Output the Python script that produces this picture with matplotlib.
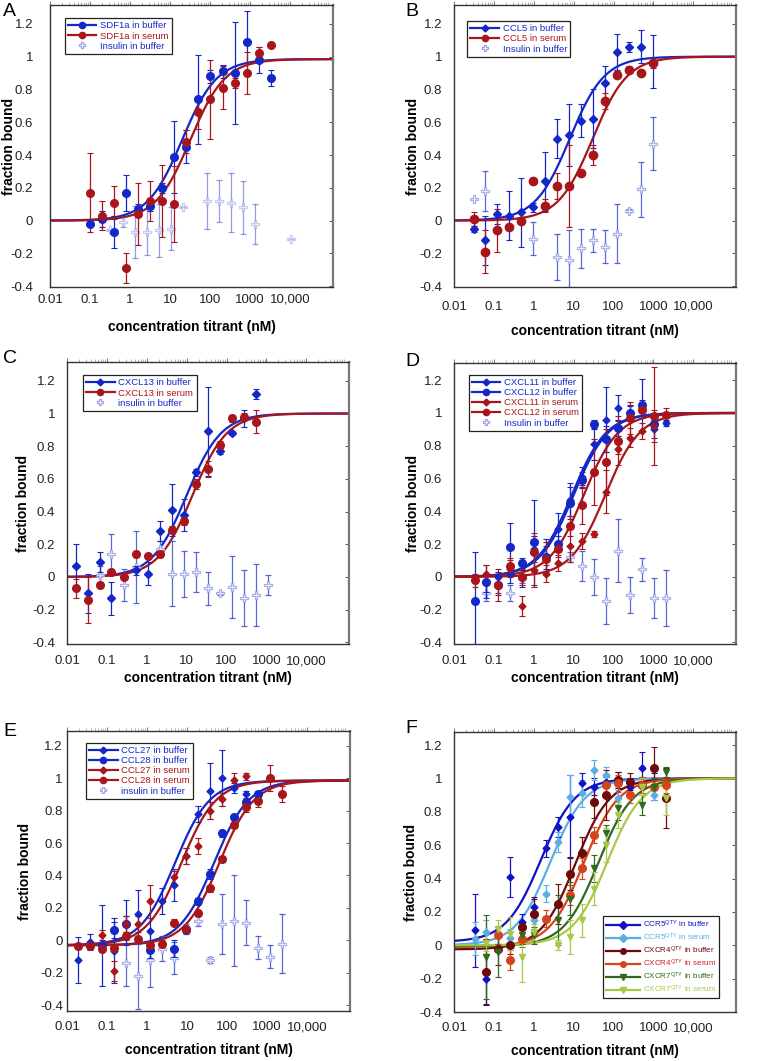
import numpy as np
import matplotlib.pyplot as plt
from matplotlib.lines import Line2D
from matplotlib.ticker import LogLocator, NullFormatter

plt.rcParams['font.family'] = ['Liberation Sans', 'DejaVu Sans']
plt.rcParams['mathtext.default'] = 'regular'
nan = np.nan

# axis ticks
xticks = [0.01, 0.1, 1, 10, 100, 1000, 10000]
xtick_labels = ['0.01', '0.1', '1', '10', '100', '1000', '10,000']
yticks = [-0.4, -0.2, 0, 0.2, 0.4, 0.6, 0.8, 1, 1.2]
ytick_labels = ['-0.4', '-0.2', '0', '0.2', '0.4', '0.6', '0.8', '1', '1.2']

# ---------------- A : SDF1a ----------------
A_x = [0.1, 0.2, 0.4, 0.8, 1.6, 3.2, 6.4, 12.8, 25.6, 51, 102, 205, 410, 820, 1640, 3280]
A_buf = [-0.02, 0.01, -0.07, 0.17, 0.07, 0.09, 0.20, 0.39, 0.45, 0.74, 0.88, 0.91, 0.90, 1.09, 0.98, 0.87]
A_buf_err = [0.0, 0.05, 0.10, 0.11, 0.03, 0.03, 0.03, 0.22, 0.10, 0.27, 0.04, 0.04, 0.31, 0.19, 0.08, 0.05]
A_ser = [0.17, 0.03, 0.11, -0.29, 0.04, 0.12, 0.12, 0.10, 0.48, 0.66, 0.74, 0.81, 0.84, 0.90, 1.02, 1.07]
A_ser_err = [0.24, 0.09, 0.10, 0.09, 0.19, 0.12, 0.22, 0.23, 0.07, 0.10, 0.24, 0.13, 0.03, 0.13, 0.04, 0.0]
A_ins_x = [0.32, 0.65, 1.3, 2.6, 5.2, 10.3, 20.6, 82, 165, 330, 660, 1320, 10560]
A_ins = [-0.06, -0.01, -0.07, -0.07, -0.06, -0.05, 0.08, 0.12, 0.12, 0.11, 0.08, -0.02, -0.11]
A_ins_err = [0.0, 0.03, 0.16, 0.14, 0.16, 0.13, 0.0, 0.17, 0.13, 0.18, 0.16, 0.12, 0.0]
A_kd = [20, 32]

# ---------------- B : CCL5 ----------------
B_x = [0.031, 0.061, 0.12, 0.24, 0.49, 0.98, 1.95, 3.9, 7.8, 15.6, 31, 62.5, 125, 250, 500, 1000]
B_buf = [-0.05, -0.12, 0.04, 0.03, 0.05, 0.08, 0.24, 0.50, 0.52, 0.61, 0.62, 0.84, 1.03, 1.06, 1.06, 0.97]
B_buf_err = [0.02, 0.15, 0.06, 0.15, 0.21, 0.03, 0.18, 0.12, 0.19, 0.10, 0.18, 0.10, 0.11, 0.03, 0.10, 0.16]
B_ser = [0.01, -0.19, -0.06, -0.04, 0.0, 0.24, 0.09, 0.21, 0.21, 0.29, 0.40, 0.73, 0.89, 0.92, 0.90, 0.96]
B_ser_err = [0.04, 0.13, 0.13, 0.02, 0.02, 0.0, 0.04, 0.08, 0.25, 0.02, 0.06, 0.05, 0.02, 0.02, 0.01, 0.03]
B_ins_x = [0.031, 0.061, 0.98, 3.9, 7.8, 15.6, 31, 62.5, 125, 250, 500, 1000]
B_ins = [0.13, 0.18, -0.11, -0.22, -0.24, -0.17, -0.12, -0.16, -0.08, 0.06, 0.19, 0.47]
B_ins_err = [0.0, 0.12, 0.10, 0.14, 0.18, 0.12, 0.07, 0.10, 0.18, 0.01, 0.17, 0.16]
B_kd = [8, 30]

# ---------------- C : CXCL13 ----------------
C_x = [0.017, 0.034, 0.068, 0.13, 0.27, 0.54, 1.07, 2.1, 4.3, 8.6, 17, 34, 69, 137, 275, 550]
C_buf = [0.07, -0.10, 0.09, -0.13, 0.0, 0.04, 0.02, 0.28, 0.41, 0.38, 0.64, 0.89, 0.77, 0.88, 0.97, 1.12]
C_buf_err = [0.13, 0.12, 0.06, 0.10, 0.01, 0.03, 0.07, 0.06, 0.16, 0.10, 0.02, 0.27, 0.02, 0.01, 0.05, 0.03]
C_ser = [-0.07, -0.14, -0.05, 0.03, 0.0, 0.14, 0.13, 0.14, 0.29, 0.34, 0.57, 0.66, 0.81, 0.97, 0.98, 0.95]
C_ser_err = [0.06, 0.14, 0.02, 0.02, 0.01, 0.02, 0.01, 0.02, 0.02, 0.02, 0.03, 0.05, 0.02, 0.02, 0.02, 0.07]
C_ins_x = [0.068, 0.13, 0.27, 0.54, 2.1, 4.3, 8.6, 17, 34, 69, 137, 275, 550, 1100]
C_ins = [0.01, 0.14, -0.05, 0.06, 0.17, 0.02, 0.02, 0.03, -0.07, -0.10, -0.06, -0.13, -0.11, -0.05]
C_ins_err = [0.06, 0.12, 0.10, 0.22, 0.05, 0.20, 0.14, 0.12, 0.10, 0.01, 0.19, 0.17, 0.19, 0.06]
C_kd = [10, 14]

# ---------------- D : CXCL11 / CXCL12 ----------------
D_x = [0.033, 0.065, 0.13, 0.26, 0.51, 1.0, 2.0, 4.1, 8.2, 16, 33, 65, 130, 260, 520, 1040, 2100]
D_11buf = [nan, -0.04, 0.0, 0.02, -0.01, 0.17, 0.13, 0.29, 0.47, 0.61, 0.81, 0.96, 1.03, 1.0, 1.03, 0.90, 0.94]
D_11buf_err = [0, 0.05, 0.03, 0.06, 0.05, 0.08, 0.10, 0.10, 0.10, 0.06, 0.10, 0.20, 0.08, 0.05, 0.05, 0.05, 0.02]
D_12buf = [-0.15, -0.03, -0.05, 0.18, 0.085, 0.21, 0.12, 0.20, 0.45, 0.59, 0.93, 0.84, 0.91, 1.0, 1.05, 0.93, nan]
D_12buf_err = [0.30, 0.10, 0.06, 0.15, 0.03, 0.26, 0.07, 0.05, 0.10, 0.05, 0.03, 0.08, 0.05, 0.04, 0.16, 0.03, 0]
D_11ser = [nan, 0.02, -0.05, 0.05, -0.18, 0.04, 0.02, 0.085, 0.19, 0.22, 0.26, 0.52, 0.78, 0.85, 0.89, 0.92, nan]
D_11ser_err = [0, 0.05, 0.05, 0.05, 0.06, 0.10, 0.05, 0.05, 0.10, 0.05, 0.02, 0.13, 0.03, 0.06, 0.05, 0.10, 0]
D_12ser = [-0.02, nan, -0.05, 0.065, 0.0, 0.15, 0.11, 0.17, 0.31, 0.44, 0.64, 0.70, 0.83, 0.97, 1.02, 0.98, 0.99]
D_12ser_err = [0.04, 0, 0.10, 0.05, 0.05, 0.12, 0.10, 0.05, 0.06, 0.12, 0.20, 0.20, 0.15, 0.10, 0.05, 0.30, 0.04]
D_ins_x = [0.065, 0.26, 0.51, 8.2, 16, 33, 65, 130, 260, 520, 1040, 2100]
D_ins = [-0.10, -0.10, -0.01, 0.12, 0.065, 0.0, -0.15, 0.16, -0.11, 0.045, -0.13, -0.13]
D_ins_err = [0.05, 0.05, 0.03, 0.03, 0.09, 0.11, 0.14, 0.19, 0.11, 0.07, 0.12, 0.17]
D_kd = [9, 10, 62, 18]

# ---------------- E : CCL27 / CCL28 ----------------
E_x = [0.019, 0.038, 0.075, 0.15, 0.3, 0.6, 1.2, 2.4, 4.7, 9.4, 19, 38, 75, 150, 300, 600, 1200, 2400]
E_27buf = [-0.12, -0.01, -0.03, -0.065, 0.11, 0.16, 0.06, 0.24, 0.34, 0.52, 0.78, 0.92, 1.0, 0.94, 0.90, nan, nan, nan]
E_27buf_err = [0.14, 0.05, 0.25, 0.20, 0.14, 0.15, 0.08, 0.08, 0.10, 0.05, 0.05, 0.17, 0.17, 0.03, 0.02, 0, 0, 0]
E_28buf = [nan, nan, -0.03, 0.065, 0.10, nan, -0.06, nan, -0.05, 0.065, 0.24, 0.41, 0.66, 0.76, 0.85, 0.90, nan, nan]
E_28buf_err = [0, 0, 0.03, 0.05, 0.05, 0, 0.05, 0, 0.05, 0.02, 0.02, 0.03, 0.02, 0.02, 0.02, 0.02, 0, 0]
E_27ser = [nan, nan, 0.035, -0.19, 0.10, 0.10, 0.24, nan, 0.39, 0.52, 0.58, 0.80, 0.87, 0.99, 1.01, nan, nan, nan]
E_27ser_err = [0, 0, 0.03, 0.06, 0.05, 0.05, 0.10, 0, 0.04, 0.05, 0.05, 0.05, 0.04, 0.04, 0.02, 0, 0, 0]
E_28ser = [-0.035, -0.035, -0.05, -0.045, 0.03, 0.01, -0.03, -0.02, 0.11, 0.07, 0.17, 0.32, 0.50, 0.71, 0.82, 0.86, 1.0, 0.90]
E_28ser_err = [0.02, 0.02, 0.02, 0.02, 0.02, 0.02, 0.02, 0.02, 0.02, 0.02, 0.02, 0.02, 0.02, 0.02, 0.03, 0.04, 0.08, 0.05]
E_ins_x = [0.3, 0.6, 1.2, 2.4, 4.7, 9.4, 19, 38, 75, 150, 300, 600, 1200, 2400]
E_ins = [-0.14, -0.22, -0.12, -0.05, -0.11, 0.07, 0.12, -0.12, 0.10, 0.12, 0.11, -0.045, -0.10, -0.02]
E_ins_err = [0.14, 0.20, 0.17, 0.08, 0.10, 0.03, 0.03, 0.02, 0.185, 0.28, 0.14, 0.07, 0.07, 0.18]
E_kd = [5, 47, 7.2, 64]

# ---------------- F : QTY receptors ----------------
F_x = [0.033, 0.065, 0.13, 0.26, 0.51, 1.0, 2.0, 4.1, 8.2, 16, 33, 65, 130, 260, 520, 1040, 2100]
F_ccr5_buf = [0.09, -0.20, nan, 0.41, 0.14, 0.23, 0.58, 0.71, 0.77, 0.97, 0.95, 0.98, 0.99, 0.95, 1.06, 0.95, nan]
F_ccr5_buf_err = [0.22, 0.15, 0, 0.12, 0.05, 0.05, 0.05, 0.06, 0.25, 0.06, 0.05, 0.03, 0.05, 0.05, 0.10, 0.08, 0]
F_ccr5_ser = [0.04, 0.08, 0.06, 0.045, nan, 0.15, 0.31, 0.62, 0.89, 0.91, 1.05, 1.02, 0.88, nan, nan, 0.90, nan]
F_ccr5_ser_err = [0.10, 0.07, 0.05, 0.05, 0, 0.05, 0.05, 0.06, 0.13, 0.08, 0.06, 0.05, 0.05, 0, 0, 0.03, 0]
F_cxcr4_buf = [nan, -0.16, -0.02, 0.0, 0.11, 0.19, nan, 0.25, 0.43, 0.55, 0.86, 0.90, 0.99, 0.98, 0.96, 1.06, 0.88]
F_cxcr4_buf_err = [0, 0.20, 0.10, 0.05, 0.03, 0.10, 0, 0.12, 0.10, 0.10, 0.10, 0.15, 0.05, 0.05, 0.05, 0.13, 0.18]
F_cxcr4_ser = [nan, nan, 0.06, -0.09, 0.04, nan, 0.16, nan, 0.30, 0.46, 0.66, 0.96, 0.97, 0.90, 0.96, 0.95, 0.96]
F_cxcr4_ser_err = [0, 0, 0.05, 0.06, 0.05, 0, 0.05, 0, 0.06, 0.06, 0.05, 0.05, 0.05, 0.05, 0.05, 0.05, 0.05]
F_cxcr7_buf = [nan, -0.07, -0.04, nan, 0.06, 0.06, nan, 0.15, 0.28, nan, 0.46, 0.67, 0.82, nan, 0.84, 0.95, 1.04]
F_cxcr7_buf_err = [0, 0.25, 0.15, 0, 0.05, 0.05, 0, 0.15, 0.10, 0, 0.08, 0.05, 0.07, 0, 0.06, 0.05, 0.03]
F_cxcr7_ser = [nan, 0.016, 0.10, 0.07, -0.07, 0.08, nan, 0.0, 0.05, 0.15, 0.34, 0.60, 0.78, nan, 0.95, nan, 0.88]
F_cxcr7_ser_err = [0, 0.05, 0.05, 0.10, 0.15, 0.05, 0, 0.03, 0.10, 0.10, 0.10, 0.10, 0.08, 0, 0.05, 0, 0.10]
F_kd = [1.5, 2.6, 11, 18, 42, 70]
F_base = [0.02, 0.0, -0.025, -0.01, -0.005, 0.0]
F_labels = ['CCR5$^{QTY}$ in buffer', 'CCR5$^{QTY}$ in serum', 'CXCR4$^{QTY}$ in buffer',
            'CXCR4$^{QTY}$ in serum', 'CXCR7$^{QTY}$ in buffer', 'CXCR7$^{QTY}$ in serum']

blue = '#1428c8'
red = '#a8161b'
ins_edge = '#9aa2e6'
ins_bar = '#3a4ccf'
F_colors = ['#1010c8', '#5aaee6', '#6e0a0a', '#d4441c', '#2f6a1f', '#a9c845']
F_text = ['#1010c8', '#5aaee6', '#6e0a0a', '#d0202a', '#2f6a1f', '#a9c845']

W, H = 758, 1061
fig = plt.figure(figsize=(W / 100, H / 100), dpi=100)


def make_axes(l, t, r, b, ylim, ypad, xpad, ylab_dx, xlab_dy):
    ax = fig.add_axes([l / W, 1 - b / H, (r - l) / W, (b - t) / H])
    wpx, hpx = r - l, b - t
    ax.set_xscale('log')
    ax.set_xlim(0.01, 10 ** 5.07)
    ax.set_ylim(*ylim)
    ax.set_xticks(xticks)
    ax.set_xticklabels(xtick_labels)
    ax.xaxis.set_minor_locator(LogLocator(base=10, subs=np.arange(2, 10), numticks=20))
    ax.xaxis.set_minor_formatter(NullFormatter())
    ax.set_yticks(yticks)
    ax.set_yticklabels(ytick_labels)
    ax.tick_params(axis='x', which='major', bottom=False, top=True, direction='out',
                   length=3, width=0.7, color='#777', labelsize=9.5, labelcolor='#222', pad=xpad)
    ax.tick_params(axis='x', which='minor', bottom=False, top=True, direction='out',
                   length=2, width=0.5, color='#999')
    ax.tick_params(axis='y', left=False, right=True, direction='in', length=3, width=0.7,
                   color='#555', labelleft=True, labelsize=9.5, labelcolor='#222', pad=ypad)
    for s in ax.spines.values():
        s.set_linewidth(1.0)
        s.set_color('#333')
    ax.spines['right'].set_color('#777')
    ax.spines['right'].set_linewidth(1.6)
    ax.set_xlabel('concentration titrant (nM)', fontsize=10, fontweight='bold')
    ax.set_ylabel('fraction bound', fontsize=10, fontweight='bold')
    ax.xaxis.set_label_coords(0.5, -(xlab_dy - 7) / hpx)
    ax.yaxis.set_label_coords(-(ylab_dx - 7) / wpx, 0.5)
    return ax


def fit_curve(ax, kd, color, base=0.0, top=1.0):
    xs = np.logspace(-2, 5.07, 300)
    ax.plot(xs, base + (top - base) * xs / (kd + xs), color=color, lw=1.6, zorder=2)


def points(ax, x, y, err, color, marker, ms):
    ax.errorbar(x, y, yerr=err, fmt=marker, color=color, ms=ms, elinewidth=0.9,
                capsize=2, capthick=0.8, zorder=3)


def insulin(ax, x, y, err, alpha=0.85):
    ax.errorbar(x, y, yerr=err, fmt='P', ms=5.5, mfc='white', mec=ins_edge, mew=0.9,
                ecolor=ins_bar, elinewidth=0.9, capsize=2, capthick=0.8, alpha=alpha, zorder=2.5)


def add_legend(ax, handles, labels, colors, loc, anchor, fs, hl, spacing=0.12):
    leg = ax.legend(handles, labels, loc=loc, bbox_to_anchor=anchor, fontsize=fs,
                    handlelength=hl, handletextpad=0.4, labelspacing=spacing, borderpad=0.35,
                    fancybox=False, edgecolor='#222', framealpha=1)
    leg.get_frame().set_linewidth(0.9)
    for t, c in zip(leg.get_texts(), colors):
        t.set_color(c)


def h(color, marker, ms=4.5):
    return Line2D([0], [0], color=color, marker=marker, ms=ms, lw=1.6)


h_ins = Line2D([0], [0], ls='none', marker='P', ms=5, mfc='white', mec=ins_edge, mew=0.9)

# ---- A ----
ax = make_axes(50, 5, 333, 287, (-0.405, 1.315), 12, 2, 41, 40)
fit_curve(ax, A_kd[0], blue, top=0.985)
fit_curve(ax, A_kd[1], red, top=0.985)
insulin(ax, A_ins_x, A_ins, A_ins_err, alpha=0.55)
points(ax, A_x, A_buf, A_buf_err, blue, 'o', 5.5)
points(ax, A_x, A_ser, A_ser_err, red, 'o', 5.5)
add_legend(ax, [h(blue, 'o'), h(red, 'o'), h_ins],
           ['SDF1a in buffer', 'SDF1a in serum', 'Insulin in buffer'],
           [blue, red, blue], 'upper left', (0.035, 0.97), 6.8, 3.0)
fig.text(3 / W, 1 - 3 / H, 'A', fontsize=14, va='top')

# ---- B ----
ax = make_axes(454, 5, 736, 287, (-0.405, 1.315), 8.5, 7, 41, 44)
fit_curve(ax, B_kd[0], blue)
fit_curve(ax, B_kd[1], red)
insulin(ax, B_ins_x, B_ins, B_ins_err)
points(ax, B_x, B_buf, B_buf_err, blue, 'D', 4)
points(ax, B_x, B_ser, B_ser_err, red, 'o', 6)
add_legend(ax, [h(blue, 'D', 3.5), h(red, 'o'), h_ins],
           ['CCL5 in buffer', 'CCL5 in serum', 'Insulin in buffer'],
           [blue, red, blue], 'upper left', (0.03, 0.96), 6.8, 3.0)
fig.text(405 / W, 1 - 3 / H, 'B', fontsize=14, va='top')

# ---- C ----
ax = make_axes(67, 362, 349, 644, (-0.41, 1.315), 8.5, 5, 44, 34)
fit_curve(ax, C_kd[0], blue)
fit_curve(ax, C_kd[1], red)
insulin(ax, C_ins_x, C_ins, C_ins_err)
points(ax, C_x, C_buf, C_buf_err, blue, 'D', 4)
points(ax, C_x, C_ser, C_ser_err, red, 'o', 5.5)
add_legend(ax, [h(blue, 'D', 3.5), h(red, 'o'), h_ins],
           ['CXCL13 in buffer', 'CXCL13 in serum', 'insulin in buffer'],
           [blue, red, blue], 'upper left', (0.04, 0.97), 6.8, 3.0)
fig.text(3 / W, 1 - 350 / H, 'C', fontsize=14, va='top')

# ---- D ----
ax = make_axes(454, 363, 736, 644, (-0.41, 1.305), 8.5, 5, 41, 34)
fit_curve(ax, D_kd[0], blue)
fit_curve(ax, D_kd[1], blue)
fit_curve(ax, D_kd[2], red)
fit_curve(ax, D_kd[3], red)
insulin(ax, D_ins_x, D_ins, D_ins_err)
points(ax, D_x, D_11buf, D_11buf_err, blue, 'D', 3.5)
points(ax, D_x, D_12buf, D_12buf_err, blue, 'o', 5.5)
points(ax, D_x, D_11ser, D_11ser_err, red, 'D', 3.5)
points(ax, D_x, D_12ser, D_12ser_err, red, 'o', 5.5)
add_legend(ax, [h(blue, 'D', 3.5), h(blue, 'o'), h(red, 'D', 3.5), h(red, 'o'), h_ins],
           ['CXCL11 in buffer', 'CXCL12 in buffer', 'CXCL11 in serum', 'CXCL12 in serum',
            'Insulin in buffer'],
           [blue, blue, red, red, blue], 'upper left', (0.035, 0.975), 6.8, 3.0)
fig.text(405 / W, 1 - 353 / H, 'D', fontsize=14, va='top')

# ---- E ----
ax = make_axes(67, 731, 350, 1011, (-0.435, 1.29), 3, 4.5, 42, 39)
fit_curve(ax, E_kd[0], blue, base=-0.03, top=0.985)
fit_curve(ax, E_kd[1], blue, base=-0.03, top=0.985)
fit_curve(ax, E_kd[2], red, base=-0.03, top=0.985)
fit_curve(ax, E_kd[3], red, base=-0.03, top=0.985)
insulin(ax, E_ins_x, E_ins, E_ins_err)
points(ax, E_x, E_27buf, E_27buf_err, blue, 'D', 3.5)
points(ax, E_x, E_28buf, E_28buf_err, blue, 'o', 5.5)
points(ax, E_x, E_27ser, E_27ser_err, red, 'D', 3.5)
points(ax, E_x, E_28ser, E_28ser_err, red, 'o', 5.5)
add_legend(ax, [h(blue, 'D', 3.5), h(blue, 'o'), h(red, 'D', 3.5), h(red, 'o'), h_ins],
           ['CCL27 in buffer', 'CCL28 in buffer', 'CCL27 in serum', 'CCL28 in serum',
            'insulin in buffer'],
           [blue, blue, red, red, blue], 'upper left', (0.05, 0.975), 6.8, 3.0)
fig.text(3 / W, 1 - 723 / H, 'E', fontsize=14, va='top')

# ---- F ----
ax = make_axes(454, 732, 736, 1012, (-0.4, 1.278), 8.5, 4.5, 43, 39)
F_series = [(F_ccr5_buf, F_ccr5_buf_err, 'D', 3.5), (F_ccr5_ser, F_ccr5_ser_err, 'D', 3.5),
            (F_cxcr4_buf, F_cxcr4_buf_err, 'o', 5.5), (F_cxcr4_ser, F_cxcr4_ser_err, 'o', 5.5),
            (F_cxcr7_buf, F_cxcr7_buf_err, 'v', 4.5), (F_cxcr7_ser, F_cxcr7_ser_err, 'v', 4.5)]
for i, (y, e, m, ms) in enumerate(F_series):
    fit_curve(ax, F_kd[i], F_colors[i], base=F_base[i])
for i, (y, e, m, ms) in enumerate(F_series):
    points(ax, F_x, y, e, F_colors[i], m, ms)
add_legend(ax, [h(F_colors[i], F_series[i][2], 4) for i in range(6)], F_labels, F_text,
           'lower right', (0.955, 0.035), 5.8, 4.2, spacing=0.22)
fig.text(405 / W, 1 - 720 / H, 'F', fontsize=14, va='top')

fig.savefig('out.png', dpi=100)
